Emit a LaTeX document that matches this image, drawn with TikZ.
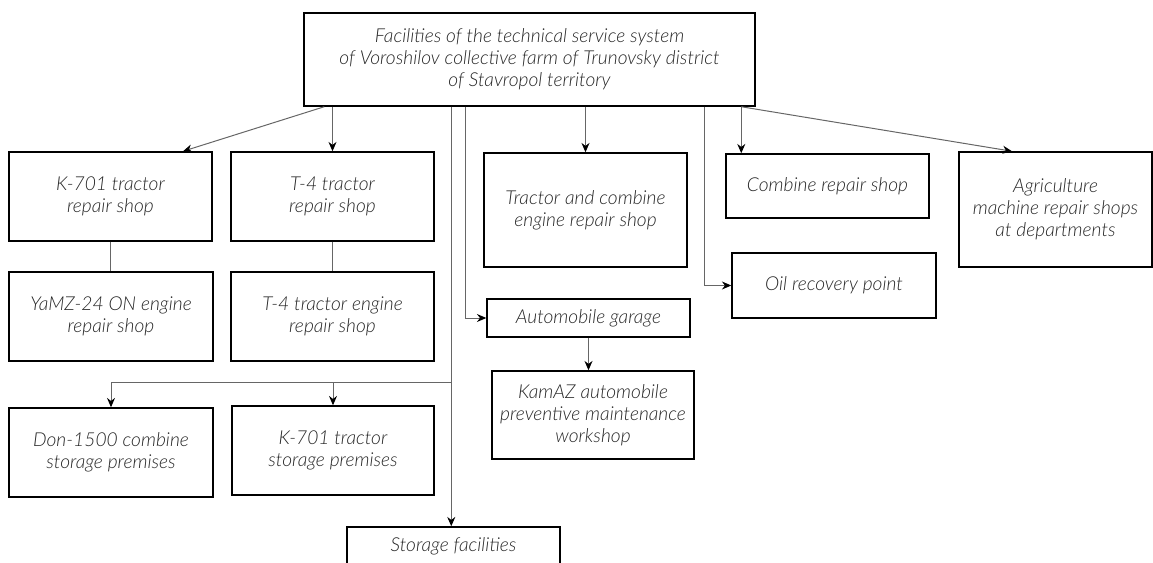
\documentclass[tikz,border=0pt]{standalone}
\usepackage{fontspec}
\setmainfont{Lato}[UprightFont=* Light, ItalicFont=* Light Italic]
\usepackage{tikz}
\usetikzlibrary{positioning,calc,arrows.meta}

\begin{document}
\begin{tikzpicture}[x=0.75pt, y=-0.75pt,
        shopbox/.style={draw=black, line width=1.1pt, align=center, inner sep=2pt, text=black!85,
            font=\itshape\fontsize{14.4}{16.5}\selectfont},
        sz/.style 2 args={minimum width=#1*0.75pt, minimum height=#2*0.75pt},
        link/.style={draw=black!60, line width=0.75pt},
        feed/.style={link, -{Stealth[length=7pt, width=6pt, black]}}]
        \useasboundingbox (0,0) rectangle (1153,563);

        \node[shopbox, sz={451}{93}] (top) at (529.5,59.5) {Facilities of the technical service system\\ of Voroshilov collective farm of Trunovsky district\\ of Stavropol territory};
        \node[shopbox, sz={203}{89}] (k701) at (110.5,196.5) {K-701 tractor\\ repair shop};
        \node[shopbox, sz={203}{89}] (t4) at (332.5,196.5) {T-4 tractor\\ repair shop};
        \node[shopbox, sz={204}{89}] (yamz) at (111,316.5) {YaMZ-24 ON engine\\ repair shop};
        \node[shopbox, sz={203}{89}] (t4eng) at (332.5,316.5) {T-4 tractor engine\\ repair shop};
        \node[shopbox, sz={204}{89}] (don) at (111,452.5) {Don-1500 combine\\ storage premises};
        \node[shopbox, sz={202}{89}] (k701st) at (333,450.5) {K-701 tractor\\ storage premises};
        \node[shopbox, sz={213}{39}] (store) at (453.5,546.5) {Storage facilities};
        \node[shopbox, sz={203}{114}] (tce) at (585.5,210) {Tractor and combine\\ engine repair shop};
        \node[shopbox, sz={203}{38}] (garage) at (588.5,318) {Automobile garage};
        \node[shopbox, sz={202}{88}] (kamaz) at (593,415) {KamAZ automobile\\ preventive maintenance\\ workshop};
        \node[shopbox, sz={203}{64}] (combine) at (827.5,186) {Combine repair shop};
        \node[shopbox, sz={204}{65}] (oil) at (834,285.5) {Oil recovery point};
        \node[shopbox, sz={193}{115}] (agri) at (1055.5,209.5) {Agriculture\\ machine repair shops\\ at departments};

        \coordinate (trunk) at ($(top.south west)+(148,0)$);
        \coordinate (fork) at ($(trunk)+(0,276)$);
        \coordinate (rjoin) at ($(top.south west)+(438,0)$);

        \draw[feed] ($(top.south west)+(21,0)$) -- ($(k701.north)+(72.5,0)$);
        \draw[feed] (top.south -| t4.north) -- (t4.north);
        \draw[link] (k701.south) -- (k701.south |- yamz.north);
        \draw[link] (t4.south) -- (t4.south |- t4eng.north);
        \draw[feed] (trunk) -- (trunk |- store.north);
        \draw[feed] (fork) -| (don.north);
        \draw[feed] (fork) -| (k701st.north);
        \draw[feed] ($(top.south west)+(162,0)$) |- (garage.west);
        \draw[feed] (top.south -| tce.north) -- (tce.north);
        \draw[feed] (garage.south) -- (garage.south |- kamaz.north);
        \draw[feed] ($(top.south west)+(401,0)$) |- (oil.west);
        \draw[feed] (rjoin) -- (rjoin |- combine.north);
        \draw[feed] (rjoin) -- ($(agri.north)+(-43.5,0)$);
    \end{tikzpicture}
\end{document}
